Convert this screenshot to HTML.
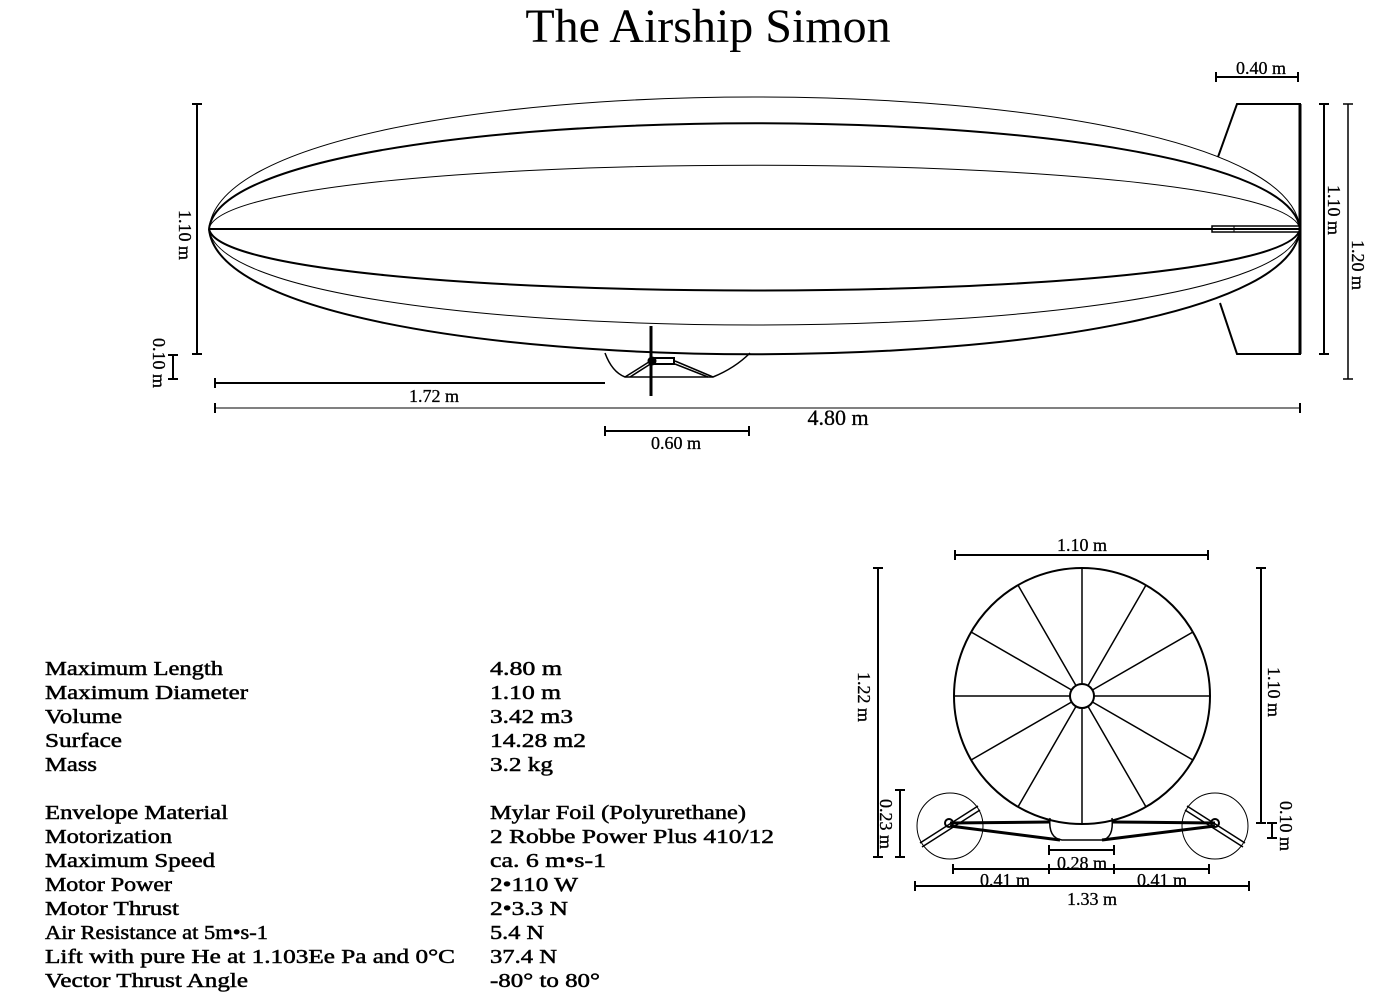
<!DOCTYPE html>
<html><head><meta charset="utf-8"><style>
html,body{margin:0;padding:0;background:#fff}
svg{display:block}
text{font-family:"Liberation Serif",serif;fill:#000}
.t{font-size:20px;stroke:#000;stroke-width:0.5}
.d{font-size:18px;stroke:#000;stroke-width:0.3}
</style></head><body>
<svg width="1400" height="1000" viewBox="0 0 1400 1000" xmlns="http://www.w3.org/2000/svg">
<text x="708" y="42" text-anchor="middle" font-size="48">The Airship Simon</text>

<g fill="none" stroke="#000">
<path d="M209,229 C225,53 1285,53 1300,229" stroke-width="1"/>
<path d="M209,229 C225,88 1285,88 1300,229" stroke-width="2"/>
<path d="M209,229 C225,144 1285,144 1300,229" stroke-width="1"/>
<path d="M209,229 C225,311 1285,311 1300,229" stroke-width="2"/>
<path d="M209,229 C225,357 1285,357 1300,229" stroke-width="1"/>
<path d="M209,229 C225,396 1285,396 1300,229" stroke-width="2"/>
<line x1="209" y1="229" x2="1300" y2="229" stroke-width="2"/>
<polyline points="1218,157 1237,104 1300,104 1300,354 1237,354 1220,303" stroke-width="2"/>
<line x1="1300" y1="104" x2="1300" y2="354" stroke-width="3"/>
<rect x="1212" y="226" width="88" height="6" stroke-width="1.5"/>
<line x1="1234" y1="226" x2="1234" y2="232"/>
<path d="M605,353 Q612,372 625,377 L713,377 Q735,368 750,353" stroke-width="1.5"/>
<path d="M625,377 L652,360 M630,377 L652,363 M675,361 L713,377 M675,364 L708,377" stroke-width="1.5"/>
<rect x="652" y="358" width="22" height="6" stroke-width="2"/>
<circle cx="652" cy="361" r="4" fill="#000"/>
<line x1="651" y1="326" x2="651" y2="396" stroke-width="3"/>

<g stroke-width="2">
<path d="M197,104 V354 M192,104 H202 M192,354 H202"/>
<path d="M173,355 V379 M168,355 H178 M168,379 H178"/>
<path d="M215,383 H605 M215,378 V388"/>
<path d="M215,408 H1300" stroke-width="1"/>
<path d="M215,403 V413 M1300,403 V413"/>
<path d="M605,431 H749 M605,426 V436 M749,426 V436"/>
<path d="M1216,77 H1298 M1216,72 V82 M1298,72 V82"/>
<path d="M1324,104 V354 M1319,104 H1329 M1319,354 H1329"/>
<path d="M1348,104 V379 M1343,104 H1353 M1343,379 H1353" stroke-width="1.5"/>
</g>

<circle cx="1082" cy="696" r="128" stroke-width="2"/>
<circle cx="1082" cy="696" r="12" stroke-width="2"/>
<g stroke-width="1.5">
<path d="M1094,696 H1210 M1070,696 H954 M1082,684 V568 M1082,708 V824"/>
<path d="M1092.4,690 L1192.9,632 M1071.6,702 L971.1,760 M1092.4,702 L1192.9,760 M1071.6,690 L971.1,632"/>
<path d="M1088,685.6 L1146,585.1 M1076,706.4 L1018,806.9 M1088,706.4 L1146,806.9 M1076,685.6 L1018,585.1"/>
</g>
<circle cx="950" cy="826" r="33" stroke-width="1"/>
<circle cx="1215" cy="826" r="33" stroke-width="1"/>
<path d="M1050,818 Q1048,838 1062,840 L1102,840 Q1114,838 1112,818" stroke-width="1.5"/>
<path d="M950,823 L1050,822 M950,826 L1060,840 M1215,823 L1112,822 M1215,826 L1102,840" stroke-width="3"/>
<path d="M920,843 L978,806 M922,847 L980,810 M1245,843 L1187,806 M1243,847 L1185,810" stroke-width="1.5"/>
<circle cx="949" cy="823" r="4" stroke-width="2"/>
<circle cx="1215" cy="823" r="4" stroke-width="2"/>
<g stroke-width="2">
<path d="M955,555 H1208 M955,550 V560 M1208,550 V560"/>
<path d="M878,568 V857 M873,568 H883 M873,857 H883"/>
<path d="M1261,568 V823 M1256,568 H1266 M1256,823 H1266"/>
<path d="M900,790 V857 M895,790 H905 M895,857 H905"/>
<path d="M1272,823 V838 M1267,823 H1277 M1267,838 H1277"/>
<path d="M1049,850 H1114 M1049,845 V855 M1114,845 V855"/>
<path d="M953,869 H1209 M953,864 V874 M1049,864 V874 M1114,864 V874 M1209,864 V874"/>
<path d="M915,886 H1249 M915,881 V891 M1249,881 V891"/>
</g>
</g>

<g class="d">
<text x="434" y="402" text-anchor="middle">1.72 m</text>
<text x="838" y="425" text-anchor="middle" font-size="22">4.80 m</text>
<text x="676" y="449" text-anchor="middle">0.60 m</text>
<text x="1261" y="74" text-anchor="middle">0.40 m</text>
<text transform="translate(179,235) rotate(90)" text-anchor="middle">1.10 m</text>
<text transform="translate(153,363) rotate(90)" text-anchor="middle">0.10 m</text>
<text transform="translate(1328,210) rotate(90)" text-anchor="middle">1.10 m</text>
<text transform="translate(1352,265) rotate(90)" text-anchor="middle">1.20 m</text>
<text x="1082" y="551" text-anchor="middle">1.10 m</text>
<text transform="translate(858,697) rotate(90)" text-anchor="middle">1.22 m</text>
<text transform="translate(1268,692) rotate(90)" text-anchor="middle">1.10 m</text>
<text transform="translate(880,824) rotate(90)" text-anchor="middle">0.23 m</text>
<text transform="translate(1280,826) rotate(90)" text-anchor="middle">0.10 m</text>
<text x="1082" y="869" text-anchor="middle">0.28 m</text>
<text x="1005" y="886" text-anchor="middle">0.41 m</text>
<text x="1162" y="886" text-anchor="middle">0.41 m</text>
<text x="1092" y="905" text-anchor="middle">1.33 m</text>
</g>

<g class="t">
<text x="45" y="675" textLength="178" lengthAdjust="spacingAndGlyphs">Maximum Length</text>
<text x="45" y="699" textLength="203" lengthAdjust="spacingAndGlyphs">Maximum Diameter</text>
<text x="45" y="723" textLength="77" lengthAdjust="spacingAndGlyphs">Volume</text>
<text x="45" y="747" textLength="77" lengthAdjust="spacingAndGlyphs">Surface</text>
<text x="45" y="771" textLength="52" lengthAdjust="spacingAndGlyphs">Mass</text>
<text x="45" y="819" textLength="183" lengthAdjust="spacingAndGlyphs">Envelope Material</text>
<text x="45" y="843" textLength="127" lengthAdjust="spacingAndGlyphs">Motorization</text>
<text x="45" y="867" textLength="170" lengthAdjust="spacingAndGlyphs">Maximum Speed</text>
<text x="45" y="891" textLength="127" lengthAdjust="spacingAndGlyphs">Motor Power</text>
<text x="45" y="915" textLength="134" lengthAdjust="spacingAndGlyphs">Motor Thrust</text>
<text x="45" y="939" textLength="223" lengthAdjust="spacingAndGlyphs">Air Resistance at 5m•s-1</text>
<text x="45" y="963" textLength="410" lengthAdjust="spacingAndGlyphs">Lift with pure He at 1.103Ee Pa and 0°C</text>
<text x="45" y="987" textLength="203" lengthAdjust="spacingAndGlyphs">Vector Thrust Angle</text>
<text x="490" y="675" textLength="72" lengthAdjust="spacingAndGlyphs">4.80 m</text>
<text x="490" y="699" textLength="71" lengthAdjust="spacingAndGlyphs">1.10 m</text>
<text x="490" y="723" textLength="83" lengthAdjust="spacingAndGlyphs">3.42 m3</text>
<text x="490" y="747" textLength="96" lengthAdjust="spacingAndGlyphs">14.28 m2</text>
<text x="490" y="771" textLength="63" lengthAdjust="spacingAndGlyphs">3.2 kg</text>
<text x="490" y="819" textLength="256" lengthAdjust="spacingAndGlyphs">Mylar Foil (Polyurethane)</text>
<text x="490" y="843" textLength="284" lengthAdjust="spacingAndGlyphs">2 Robbe Power Plus 410/12</text>
<text x="490" y="867" textLength="116" lengthAdjust="spacingAndGlyphs">ca. 6 m•s-1</text>
<text x="490" y="891" textLength="88" lengthAdjust="spacingAndGlyphs">2•110 W</text>
<text x="490" y="915" textLength="78" lengthAdjust="spacingAndGlyphs">2•3.3 N</text>
<text x="490" y="939" textLength="54" lengthAdjust="spacingAndGlyphs">5.4 N</text>
<text x="490" y="963" textLength="67" lengthAdjust="spacingAndGlyphs">37.4 N</text>
<text x="490" y="987" textLength="110" lengthAdjust="spacingAndGlyphs">-80° to 80°</text>
</g>
</svg>
</body></html>
